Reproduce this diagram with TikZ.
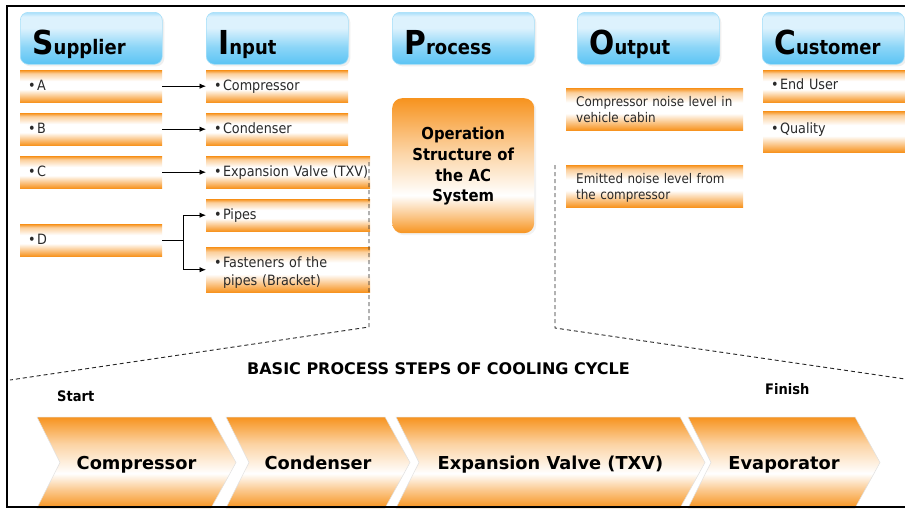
\documentclass[tikz,border=0pt]{standalone}
\usepackage{fontspec}
\setmainfont{DejaVu Sans}[FakeStretch=0.9]
\newfontfamily\plainsans{DejaVu Sans}
\usetikzlibrary{arrows.meta,shadows}

\definecolor{orng}{HTML}{F7931E}
\definecolor{skyb}{HTML}{5BC4F4}
\definecolor{skyl}{HTML}{A9DFFA}
\definecolor{skyw}{HTML}{DDF2FD}
\definecolor{txt}{HTML}{2A2A2A}

% vertical shadings: positions run bottom (25bp) to top (75bp)
\pgfdeclareverticalshading{barshade}{100bp}{color(0bp)=(orng); color(25bp)=(orng); color(33bp)=(orng!60!white); color(45bp)=(white); color(58bp)=(white); color(70bp)=(orng!45!white); color(75bp)=(orng); color(100bp)=(orng)}
\pgfdeclareverticalshading{procshade}{100bp}{color(0bp)=(orng); color(25bp)=(orng); color(31bp)=(orng!55!white); color(39bp)=(white); color(55bp)=(orng!40!white); color(75bp)=(orng); color(100bp)=(orng)}
\pgfdeclareverticalshading{chevshade}{100bp}{color(0bp)=(orng); color(25bp)=(orng); color(35bp)=(orng!50!white); color(44bp)=(white); color(60bp)=(orng!40!white); color(75bp)=(orng); color(100bp)=(orng)}
\pgfdeclareverticalshading{hdrshade}{100bp}{color(0bp)=(skyb); color(25bp)=(skyb); color(42bp)=(skyb!70!white); color(60bp)=(skyw); color(71bp)=(skyw); color(75bp)=(skyl); color(100bp)=(skyl)}

\newcommand{\bigini}[2]{{\fontsize{33}{33}\selectfont #1}{\fontsize{20}{20}\selectfont #2}}
\newcommand{\bul}{•\kern1.3pt}

\begin{document}
\begin{tikzpicture}[x=1pt,y=-1pt,
  hdr/.style={rectangle, rounded corners=8pt, anchor=north west,
    minimum width=142pt, minimum height=52pt, shade, shading=hdrshade,
    draw=skyb!55!white, line width=0.6pt, inner xsep=12pt, inner ysep=0pt,
    text width=118pt, align=left, text height=32pt, text depth=0pt,
    font=\bfseries, drop shadow={opacity=0.12, shadow xshift=2pt, shadow yshift=-2pt}},
  bar/.style={rectangle, anchor=north west, minimum height=32pt, shade, shading=barshade,
    inner xsep=8pt, inner ysep=0pt, align=left, text height=9pt, text depth=0pt,
    text=txt, font=\fontsize{14.2}{18}\selectfont},
  outbox/.style={bar, inner xsep=10pt, minimum height=42pt, text width=157pt,
    text depth=15pt, font=\fontsize{13.3}{16}\selectfont},
  procbox/.style={rectangle, rounded corners=10pt, anchor=north west, shade, shading=procshade,
    minimum width=142pt, minimum height=135pt, inner sep=0pt, text width=130pt, align=center,
    text height=12pt, text depth=64pt, font=\bfseries\fontsize{16.5}{20.7}\selectfont,
    drop shadow={opacity=0.10, shadow xshift=2pt, shadow yshift=-2pt}},
  chev/.style={shade, shading=chevshade, draw=black!12, line width=0.5pt},
  chevtxt/.style={anchor=base, font=\plainsans\bfseries\fontsize{17.8}{20}\selectfont, inner sep=0pt},
  note/.style={anchor=base west, font=\bfseries\fontsize{14.5}{16}\selectfont, inner sep=0pt},
  arr/.style={line width=0.9pt, -{Latex[length=6.5pt,width=5.5pt]}},
  guide/.style={line width=0.9pt, black!85, dash pattern=on 4pt off 3pt}]

\useasboundingbox (0,0) rectangle (905,509);
\fill[white] (0,0) rectangle (905,509);

% column headings
\node[hdr] (hSup) at (20,12)  {\bigini{S}{upplier}};
\node[hdr] (hIn)  at (206,12) {\bigini{I}{nput}};
\node[hdr] (hPro) at (392,12) {\bigini{P}{rocess}};
\node[hdr] (hOut) at (577,12) {\bigini{O}{utput}};
\node[hdr] (hCus) at (762,12) {\bigini{C}{ustomer}};

% suppliers
\node[bar, text width=126pt] (sA) at (20,70)  {\bul A};
\node[bar, text width=126pt] (sB) at (20,113) {\bul B};
\node[bar, text width=126pt] (sC) at (20,156) {\bul C};
\node[bar, text width=126pt] (sD) at (20,224) {\bul D};

% inputs
\node[bar, text width=126pt] (iComp) at (206,70)  {\bul Compressor};
\node[bar, text width=126pt] (iCond) at (206,113) {\bul Condenser};
\node[bar, text width=148pt] (iExp)  at (206,156) {\mbox{\bul Expansion Valve (TXV)}};
\node[bar, text width=148pt] (iPipe) at (206,199) {\bul Pipes};
\node[bar, text width=148pt, minimum height=45pt, text depth=14pt] (iFast) at (206,247)
  {\bul Fasteners of the\\\hphantom{\bul}pipes (Bracket)};

% process
\node[procbox] (proc) at (392,98) {Operation\\Structure of\\the AC\\System};

% outputs
\node[outbox] (oCab)  at (566,88)  {Compressor noise level in\\vehicle cabin};
\node[outbox] (oEmit) at (566,165) {Emitted noise level from\\the compressor};

% customers
\node[bar, text width=126pt, text depth=2pt] (cEnd) at (763,70) {\bul End User};
\node[bar, text width=126pt, minimum height=41pt, text depth=6pt] (cQual) at (763,111) {\bul Quality};

% supplier to input links
\draw[arr] (sA.east) -- (iComp.west);
\draw[arr] (sB.east) -- (iCond.west);
\draw[arr] (sC.east) -- (iExp.west);
\draw[arr] (sD.east) -- ++(21,0) |- (iPipe.west);
\draw[arr] (sD.east) -- ++(21,0) |- (iFast.west);

% dashed guides opening onto the cooling cycle
\coordinate (gL0) at (369,162);
\coordinate (gL1) at (369,327);
\coordinate (gL2) at (10,380);
\coordinate (gR0) at (555,165);
\coordinate (gR1) at (555,328);
\coordinate (gR2) at (905,379);
\draw[guide] (gL0) -- (gL1) -- (gL2);
\draw[guide] (gR0) -- (gR1) -- (gR2);

\node[anchor=base, font=\plainsans\bfseries\fontsize{16}{18}\selectfont, inner sep=0pt] (title) at (438.5,374)
  {BASIC PROCESS STEPS OF COOLING CYCLE};
\node[note] (start)  at (57,401.5) {Start};
\node[note] (finish) at (765,394)  {Finish};

% cooling cycle chevrons
\newcommand{\chevron}[2]{%
  \path[chev] (#1,417) -- (#2,417) -- (#2+25,462.5) -- (#2,508) -- (#1,508) -- (#1+23,462.5) -- cycle;}
\chevron{37}{211}
\chevron{226}{385}
\chevron{396}{680}
\chevron{688}{855}
\node[chevtxt] (c1) at (136.5,469.5) {Compressor};
\node[chevtxt] (c2) at (318,469.5)   {Condenser};
\node[chevtxt] (c3) at (550.5,469.5) {Expansion Valve (TXV)};
\node[chevtxt] (c4) at (784,469.5)   {Evaporator};

% frame
\draw[line width=2.5pt] (905,6) -- (7,6) -- (7,507) -- (905,507);
\end{tikzpicture}
\end{document}
